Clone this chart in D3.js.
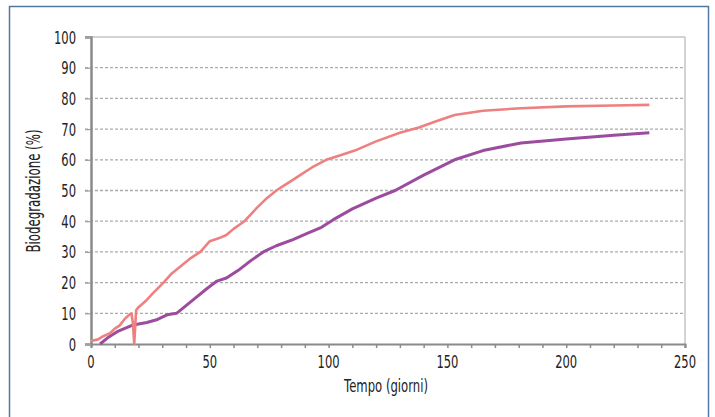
<!DOCTYPE html>
<html>
<head>
<meta charset="utf-8">
<script src="https://cdn.jsdelivr.net/npm/d3@7"></script>
<style>
  body { margin: 0; background: #fff; }
  text { font-family: "DejaVu Sans", sans-serif; fill: #222; }
</style>
</head>
<body>
<script>
// data: [giorni, biodegradazione %]
var pinkDays = [0, 3, 5, 8, 10, 12, 14, 16, 17, 17.6, 18.2, 19, 20, 23, 26, 30.5, 34, 38, 42, 46, 50, 54, 57, 60, 64.6, 70, 74, 78, 81, 84, 88, 93, 99, 105, 111, 120, 130, 138, 145, 153, 165, 181, 200, 220, 235];
var pinkVals = [1, 1.5, 2.5, 3.5, 5, 6, 8, 9.5, 10, 7, 0, 11, 12, 14, 16.5, 20, 23, 25.5, 28, 30, 33.5, 34.5, 35.5, 37.5, 40, 44.5, 47.5, 50, 51.5, 53, 55, 57.5, 60, 61.5, 63, 66, 68.8, 70.5, 72.5, 74.6, 76, 76.8, 77.4, 77.7, 77.9];
var purpleDays = [3.8, 7, 11, 14, 17, 20, 23.5, 28, 32, 36, 40, 44, 48.7, 53, 57, 62, 67, 72.5, 78, 85, 91, 97, 102, 110, 120, 128, 140, 153, 165, 181, 200, 220, 235];
var purpleVals = [0, 2, 4, 5, 6, 6.5, 7, 8, 9.5, 10, 12.5, 15, 18, 20.5, 21.5, 24, 27, 30, 32, 34, 36, 38, 40.5, 44, 47.5, 50, 55, 60, 63, 65.5, 66.8, 68, 68.8];
var xTicks = [0, 50, 100, 150, 200, 250];
var yTicks = [0, 10, 20, 30, 40, 50, 60, 70, 80, 90, 100];

var W = 715, H = 417;
var narrow = 0.64; // the original uses a condensed face
var svg = d3.select("body").append("svg").attr("width", W).attr("height", H);

// outer frame (bottom edge runs off the picture)
svg.append("rect")
  .attr("x", 9.5).attr("y", 6.5).attr("width", 699).attr("height", 430)
  .attr("fill", "none").attr("stroke", "#5478a0").attr("stroke-width", 1.5);

var x = d3.scaleLinear().domain([0, 250]).range([91, 685]);
var y = d3.scaleLinear().domain([0, 100]).range([344, 37]);

// grid
svg.append("g").selectAll("line")
  .data(yTicks.filter(function(d) { return d > 0 && d < 100; }))
  .enter().append("line")
  .attr("x1", 85).attr("x2", x(250))
  .attr("y1", function(d) { return y(d); }).attr("y2", function(d) { return y(d); })
  .attr("stroke", "#ababab").attr("stroke-width", 1.3).attr("stroke-dasharray", "3,2");

// top and right frame of the plot area
svg.append("line").attr("x1", 85).attr("x2", x(250)).attr("y1", y(100)).attr("y2", y(100))
  .attr("stroke", "#c4c4c4").attr("stroke-width", 1.5);
svg.append("line").attr("x1", x(250)).attr("x2", x(250)).attr("y1", y(100)).attr("y2", y(0) + 4)
  .attr("stroke", "#c4c4c4").attr("stroke-width", 1.5);

// x axis
var xAxis = svg.append("g").attr("transform", "translate(0," + y(0) + ")")
  .call(d3.axisBottom(x).tickValues(d3.range(0, 251, 10)).tickSize(4).tickFormat(""));
xAxis.select(".domain").attr("stroke", "#8a8a8a").attr("stroke-width", 2);
xAxis.selectAll(".tick line").attr("stroke", "#8a8a8a").attr("stroke-width", 1.5);

svg.append("g").selectAll("text").data(xTicks).enter().append("text")
  .attr("transform", function(d) { return "translate(" + x(d) + ",368) scale(" + narrow + ",1)"; })
  .attr("text-anchor", "middle").attr("font-size", "18px")
  .text(function(d) { return d; });

// y axis
var yAxis = svg.append("g").attr("transform", "translate(" + x(0) + ",0)")
  .call(d3.axisLeft(y).tickValues(yTicks).tickSize(6).tickFormat(""));
yAxis.select(".domain").attr("stroke", "#8a8a8a").attr("stroke-width", 2.5);
yAxis.selectAll(".tick line").attr("stroke", "#a0a0a0").attr("stroke-width", 1.3);

svg.append("g").selectAll("text").data(yTicks).enter().append("text")
  .attr("transform", function(d) { return "translate(76," + (y(d) + 6.5) + ") scale(" + narrow + ",1)"; })
  .attr("text-anchor", "end").attr("font-size", "18px")
  .text(function(d) { return d; });

// series
var line = d3.line()
  .x(function(d) { return x(d[0]); })
  .y(function(d) { return y(d[1]); });

var pink = pinkDays.map(function(d, i) { return [d, pinkVals[i]]; });
var purple = purpleDays.map(function(d, i) { return [d, purpleVals[i]]; });

svg.append("path").datum(purple).attr("d", line)
  .attr("fill", "none").attr("stroke", "#9c4c9e").attr("stroke-width", 3)
  .attr("stroke-linejoin", "round");
svg.append("path").datum(pink).attr("d", line)
  .attr("fill", "none").attr("stroke", "#ef8080").attr("stroke-width", 2.6)
  .attr("stroke-linejoin", "round");

// axis titles
svg.append("text").attr("x", 386).attr("y", 392)
  .attr("text-anchor", "middle").attr("font-size", "18px")
  .attr("textLength", 84).attr("lengthAdjust", "spacingAndGlyphs")
  .text("Tempo (giorni)");
svg.append("text")
  .attr("transform", "translate(40,191) rotate(-90)")
  .attr("text-anchor", "middle").attr("font-size", "19px")
  .attr("textLength", 123).attr("lengthAdjust", "spacingAndGlyphs")
  .text("Biodegradazione (%)");
</script>
</body>
</html>
